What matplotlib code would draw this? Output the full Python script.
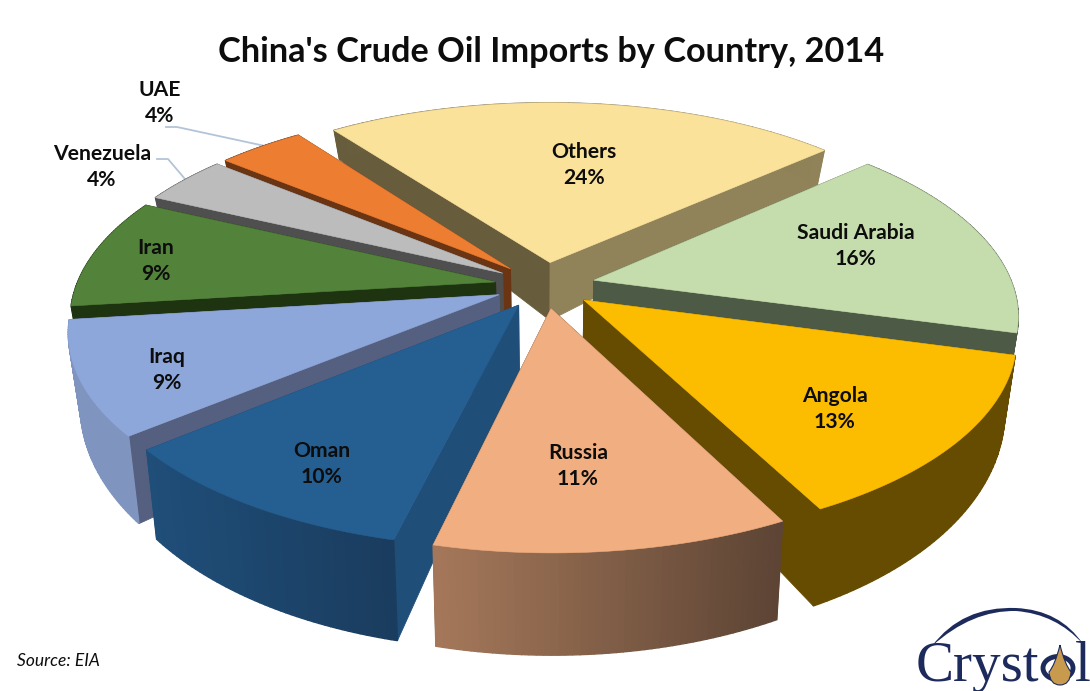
import numpy as np
import matplotlib
matplotlib.use("Agg")
import matplotlib.pyplot as plt
from matplotlib.patches import PathPatch, Ellipse
from matplotlib.path import Path

title = "China's Crude Oil Imports by Country, 2014"
source = "Source: EIA"
countries = ["Others", "Saudi Arabia", "Angola", "Russia", "Oman", "Iraq", "Iran", "Venezuela", "UAE"]
shares = [24, 16, 13, 11, 10, 9, 9, 4, 4]

top_colors = ["#FBE29A", "#C5DDAD", "#FCBC00", "#F1AE80", "#255E91", "#8EA7DA", "#53823A", "#BCBCBC", "#ED7D31"]
side_a = ["#675C3C", "#4D5A46", "#664C00", "#604734", "#1F4E79", "#556080", "#1E3310", "#4F4F4F", "#6B3514"]
side_b = ["#918359", "#4D5A46", "#664C00", "#604734", "#1F4E79", "#556080", "#1E3310", "#4F4F4F", "#6B3514"]
rim_left = ["#675C3C", "#4D5A46", "#664C00", "#A5785A", "#1F4E79", "#7F95C0", "#1E3310", "#4F4F4F", "#6B3514"]
rim_right = ["#918359", "#4D5A46", "#664C00", "#5C4434", "#1A3C5E", "#7F95C0", "#1E3310", "#4F4F4F", "#6B3514"]
draw_order = ["Others", "UAE", "Venezuela", "Saudi Arabia", "Iran", "Angola", "Iraq", "Oman", "Russia"]
label_xy = {"Others": (584, 165), "Saudi Arabia": (856, 246), "Angola": (835, 409), "Russia": (578, 466),
            "Oman": (322, 464), "Iraq": (167, 370), "Iran": (156, 261), "Venezuela": (102, 167), "UAE": (160, 103)}

CX, CY, RX, RY, PERSP, EXPLODE, START = 545, 280, 417, 192, 0.19, 0.12, -37.3
TIP_DROP = 5
WALL_TAPER = 0.975
FONT = "Lato"

fig = plt.figure(figsize=(10.9, 6.91), dpi=100)
ax = fig.add_axes([0, 0, 1, 1])
ax.set_xlim(0, 1090)
ax.set_ylim(691, 0)
ax.axis("off")


def project(X, Y):
    s = 1 / (1 - PERSP * Y)
    return CX + RX * X * s, CY + RY * Y * s


def height(Y):
    return 62 + 36 * Y


def low(x):
    return CX + (x - CX) * WALL_TAPER


def to_rgb(c):
    return np.array(matplotlib.colors.to_rgb(c))


def quad(pts, color, z, lw=0.6):
    ax.fill(*zip(*pts), facecolor=color, edgecolor=color, lw=lw, zorder=z)


total = sum(shares)
edges = START + 360 * np.cumsum([0] + shares) / total
z = 1
for name in draw_order:
    i = countries.index(name)
    a0, a1 = np.radians(edges[i]), np.radians(edges[i + 1])
    mid = (a0 + a1) / 2
    ox, oy = EXPLODE * np.sin(mid), -EXPLODE * np.cos(mid)
    th = np.linspace(a0, a1, 50)
    Xs, Ys = ox + np.sin(th), oy - np.cos(th)
    px, py = project(Xs, Ys)
    hs = height(Ys)
    tx, ty = project(ox, oy)
    ty = ty + TIP_DROP
    th0 = height(oy)
    quad([(tx, ty), (px[0], py[0]), (low(px[0]), py[0] + hs[0]), (low(tx), ty + th0)], side_a[i], z)
    quad([(tx, ty), (px[-1], py[-1]), (low(px[-1]), py[-1] + hs[-1]), (low(tx), ty + th0)], side_b[i], z)
    lo, hi = px.min(), px.max()
    cl, cr = to_rgb(rim_left[i]), to_rgb(rim_right[i])
    for k in range(len(th) - 1):
        t = ((px[k] + px[k + 1]) / 2 - lo) / (hi - lo)
        quad([(px[k], py[k]), (px[k + 1], py[k + 1]), (low(px[k + 1]), py[k + 1] + hs[k + 1]), (low(px[k]), py[k] + hs[k])],
             cl + (cr - cl) * t, z, lw=1.0)
    ax.fill(np.r_[tx, px], np.r_[ty, py], facecolor=top_colors[i], edgecolor=top_colors[i], lw=0.4, zorder=z + 0.5)
    z += 1

for name, share in zip(countries, shares):
    x, y = label_xy[name]
    ax.text(x, y, f"{name}\n{share}%", family=FONT, weight="bold", fontsize=15.2, color="#0D0D0D",
            ha="center", va="center", linespacing=1.38, zorder=30)

leader = "#B4C4D8"
ax.plot([166, 177, 265], [127, 127, 146], color=leader, lw=1.3, zorder=0.5)
ax.plot([157, 168, 185], [159, 159, 179], color=leader, lw=1.3, zorder=0.5)

ax.text(551, 52, title, family=FONT, weight="bold", fontsize=24.7, color="#0D0D0D", ha="center", va="center")
ax.text(17, 661, source, family=FONT, style="italic", fontsize=12.5, color="#0D0D0D", ha="left", va="center")

navy = "#1D2A5C"
arc = Path([(932, 646), (962, 606), (1016, 608), (1060, 610), (1083, 644), (1056, 614), (1016, 611), (972, 610), (932, 646)],
           [Path.MOVETO] + [Path.CURVE3] * 8)
ax.add_patch(PathPatch(arc, facecolor=navy, edgecolor="none", zorder=31))
ax.text(916, 681, "Cryst", family="Liberation Serif", fontsize=41, color=navy, ha="left", va="baseline", zorder=31)
ax.text(1075, 681, "l", family="Liberation Serif", fontsize=41, color=navy, ha="left", va="baseline", zorder=31)
ax.add_patch(Ellipse((1058, 668), 30, 23, facecolor="none", edgecolor=navy, lw=3.5, zorder=31))
drop = Path([(1060, 645), (1065, 665), (1071, 672), (1070, 685), (1060, 685), (1050, 685), (1049, 672), (1055, 665), (1060, 645)],
            [Path.MOVETO] + [Path.CURVE3] * 8)
ax.add_patch(PathPatch(drop, facecolor="#C79A4E", edgecolor=navy, lw=0.8, zorder=32))

fig.savefig("out.png", dpi=100, facecolor="white")
